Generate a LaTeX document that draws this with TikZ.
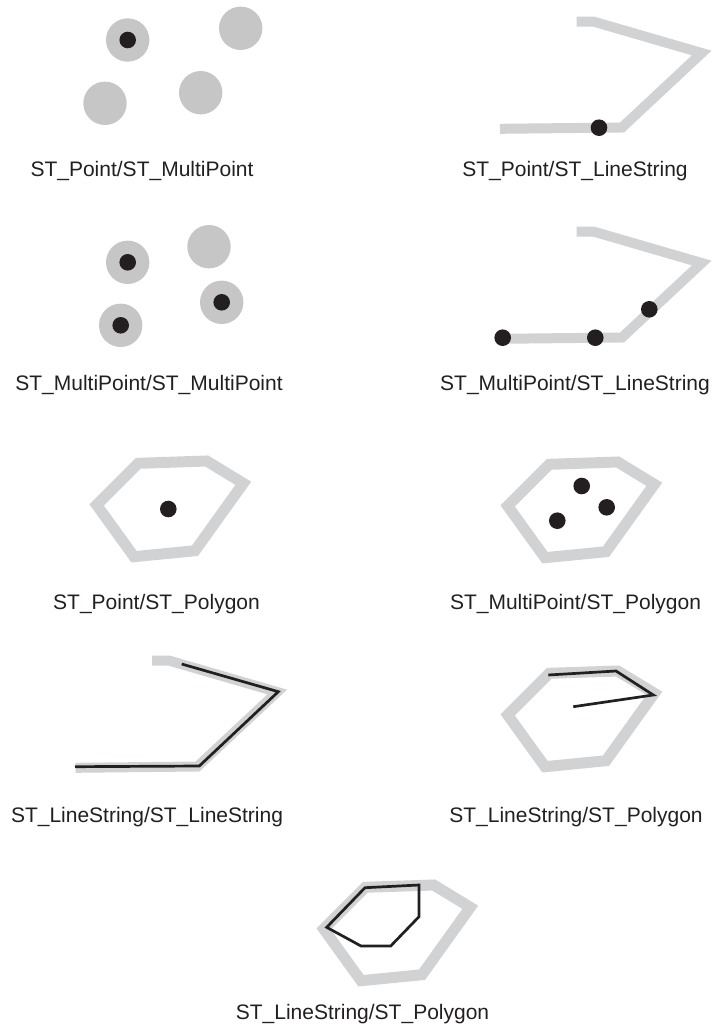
\documentclass[tikz,border=0pt]{standalone}
\usepackage{fontspec}
\setmainfont{Liberation Sans}
\definecolor{ink}{RGB}{35,31,32}
\definecolor{discgray}{RGB}{198,198,198}
\definecolor{linegray}{RGB}{209,210,212}
\tikzset{
  disc/.style={fill=discgray},
  hit/.style={fill=ink},
  track/.style={draw=linegray, line width=10pt, line join=miter},
  ring/.style={draw=linegray, line width=11pt, line join=miter},
  trace/.style={draw=ink, line width=2.7pt, line join=miter},
  caption/.style={text=ink, anchor=base, inner sep=0pt, font=\fontsize{21}{25}\selectfont}
}
\begin{document}
\begin{tikzpicture}[x=1pt, y=-1pt]
        \useasboundingbox (0,0) rectangle (712,1031);
        \foreach \x/\y in {127.7/40,240.7/28.3,105/103.3,200.7/92.7,127.7/262.3,209/246.7,221.7/302.3,120.7/325.3}
            \fill[disc] (\x,\y) circle[radius=21.7pt];
        \foreach \dx/\dy in {0/0,0/210,-424.5/639}
            \draw[track, shift={(\dx,\dy)}] (576.7,21.7) -- (594,21.7) -- (701.7,53) -- (622,127.5) -- (500,128.8);
        \foreach \dx/\dy in {0/0,411/1,411/210,227/424}
            \draw[ring, shift={(\dx,\dy)}] (96.7,505) -- (138.3,463.3) -- (206.7,461) -- (243.3,483.3) -- (195,550.7) -- (134,556.7) -- cycle;
        \foreach \x/\y in {127.7/40,127.7/262.3,221.7/302.3,120.7/325.3,599/127.7,502.7/337.7,595.3/337.7,649.3/309.3,168.3/509,581.7/486,606.7/507.3,557.3/520.7}
            \fill[hit] (\x,\y) circle[radius=8.3pt];
        \draw[trace] (181.7,664) -- (278.3,691.7) -- (199.3,766) -- (75,766.7);
        \draw[trace] (548.3,675) -- (616,671) -- (653.3,695) -- (573.3,706.7);
        \draw[trace] (326.7,927.3) -- (365,887.7) -- (419,885) -- (419,916.7) -- (390.7,946) -- (361,946) -- cycle;
        \node[caption] (ptmpt) at (142,176) {ST\_Point/ST\_MultiPoint};
        \node[caption] (ptline) at (575,176) {ST\_Point/ST\_LineString};
        \node[caption] (mptmpt) at (149,390) {ST\_MultiPoint/ST\_MultiPoint};
        \node[caption] (mptline) at (575,390) {ST\_MultiPoint/ST\_LineString};
        \node[caption] (ptpoly) at (156.5,609) {ST\_Point/ST\_Polygon};
        \node[caption] (mptpoly) at (575.5,609) {ST\_MultiPoint/ST\_Polygon};
        \node[caption] (lineline) at (147,822) {ST\_LineString/ST\_LineString};
        \node[caption] (linepoly) at (576,822) {ST\_LineString/ST\_Polygon};
        \node[caption] (ringpoly) at (362.5,1019) {ST\_LineString/ST\_Polygon};
    \end{tikzpicture}
\end{document}
